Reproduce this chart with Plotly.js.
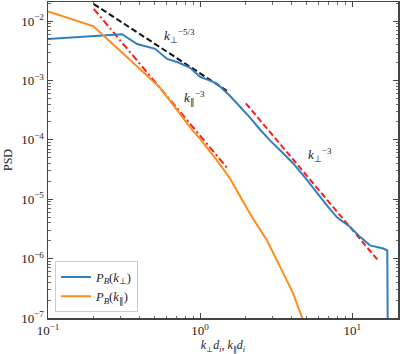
<!DOCTYPE html>
<html>
<head>
<meta charset="utf-8">
<script src="https://cdn.plot.ly/plotly-3.0.1.min.js"></script>
<style>html,body{margin:0;padding:0;background:#fff;}#chart{width:400px;height:354px;}</style>
</head>
<body>
<div id="chart"></div>
<script>
// P_B(k_perp)
const kPerp = [0.1, 0.2, 0.307, 0.385, 0.45, 0.506, 0.607, 0.72, 0.859, 1.0, 1.15, 1.29, 1.57, 1.85, 2.13, 2.5, 2.89, 3.5, 4.09, 4.9, 5.89, 6.9, 7.97, 9.7, 11.3, 13.1, 16.0, 17.0, 17.2, 17.25];
const psdPerp = [5.0e-3, 5.6e-3, 6.0e-3, 4.1e-3, 3.7e-3, 3.4e-3, 2.3e-3, 2.0e-3, 1.63e-3, 1.15e-3, 1.0e-3, 8.8e-4, 5.5e-4, 3.5e-4, 2.36e-4, 1.45e-4, 9.7e-5, 6.0e-5, 4.0e-5, 2.3e-5, 1.25e-5, 7.6e-6, 4.9e-6, 3.4e-6, 2.3e-6, 1.67e-6, 1.48e-6, 1.37e-6, 1e-8, 1e-9];
// P_B(k_par)
const kPar = [0.1, 0.198, 0.298, 0.546, 0.90, 1.0, 1.29, 1.57, 2.13, 2.76, 3.52, 4.09, 4.69, 5.0];
const psdPar = [1.45e-2, 8.2e-3, 3.15e-3, 7.5e-4, 1.4e-4, 1.04e-4, 4.5e-5, 2.24e-5, 5.7e-6, 2.0e-6, 5.7e-7, 2.6e-7, 1e-7, 6e-8];
// reference slopes (two end points each)
const k53x = [0.2, 1.5];
const k53y = [0.0193, 6.7e-4];
const kPar3x = [0.2, 1.5];
const kPar3y = [0.016, 3.4e-5];
const kPerp3x = [2.0, 14.8];
const kPerp3y = [4.1e-4, 9.3e-7];
// tick labels
const xTickVals = [0.1, 1, 10];
const xTickText = ['10<sup>−1</sup>', '10<sup>0</sup>', '10<sup>1</sup>'];
const yTickVals = [1e-7, 1e-6, 1e-5, 1e-4, 1e-3, 1e-2];
const yTickText = ['10<sup>−7</sup>', '10<sup>−6</sup>', '10<sup>−5</sup>', '10<sup>−4</sup>', '10<sup>−3</sup>', '10<sup>−2</sup>'];

const serif = "Liberation Serif, Times New Roman, serif";

const traces = [
  {x: k53x, y: k53y, mode: 'lines', line: {color: '#111', width: 2, dash: '6px,3px'}, showlegend: false, hoverinfo: 'skip'},
  {x: kPar3x, y: kPar3y, mode: 'lines', line: {color: '#ff1a1a', width: 2, dash: '7px,3px,2px,3px'}, showlegend: false, hoverinfo: 'skip'},
  {x: kPerp3x, y: kPerp3y, mode: 'lines', line: {color: '#ff1a1a', width: 2, dash: '6px,3px'}, showlegend: false, hoverinfo: 'skip'},
  {x: kPerp, y: psdPerp, mode: 'lines', name: '<i>P<sub>B</sub></i>(<i>k</i><sub>⊥</sub>)', line: {color: '#2f7fc1', width: 2}},
  {x: kPar, y: psdPar, mode: 'lines', name: '<i>P<sub>B</sub></i>(<i>k</i><sub>∥</sub>)', line: {color: '#ff8c1a', width: 2}}
];

const axisCommon = {
  type: 'log', showgrid: false, zeroline: false, showline: true, linecolor: '#444', linewidth: 1.5,
  mirror: 'allticks', ticks: 'inside', ticklen: 5, tickwidth: 1, tickcolor: '#444',
  tickmode: 'array',
  minor: {ticks: 'inside', ticklen: 2.5, tickwidth: 0.8, tickcolor: '#444', showgrid: false, dtick: 'D1'},
  tickfont: {family: serif, size: 13, color: '#222'}
};

const layout = {
  width: 400, height: 354,
  margin: {l: 48, r: 2, t: 2, b: 36},
  paper_bgcolor: '#fff', plot_bgcolor: '#fff',
  font: {family: serif, color: '#222'},
  xaxis: Object.assign({}, axisCommon, {
    range: [-1, Math.log10(20)],
    tickvals: xTickVals, ticktext: xTickText,
    title: {text: '<i>k</i><sub>⊥</sub><i>d<sub>i</sub></i>, <i>k</i><sub>∥</sub><i>d<sub>i</sub></i>', font: {family: serif, size: 12, color: '#222'}, standoff: 2}
  }),
  yaxis: Object.assign({}, axisCommon, {
    range: [-7, -1.68],
    tickvals: yTickVals, ticktext: yTickText,
    title: {text: 'PSD', font: {family: serif, size: 12, color: '#222'}, standoff: 6}
  }),
  legend: {
    x: 0.02, y: 0.018, xanchor: 'left', yanchor: 'bottom',
    bgcolor: 'rgba(255,255,255,0.9)', bordercolor: '#ccc', borderwidth: 1,
    font: {family: serif, size: 12.5, color: '#222'}, itemwidth: 30, tracegroupgap: 0
  },
  annotations: [
    {xref: 'x', yref: 'y', x: Math.log10(0.56), y: Math.log10(5.6e-3), text: '<i>k</i><sub>⊥</sub><sup>−5/3</sup>', showarrow: false, font: {family: serif, size: 13, color: '#222'}, xanchor: 'left'},
    {xref: 'x', yref: 'y', x: Math.log10(0.76), y: Math.log10(5.0e-4), text: '<i>k</i><sub>∥</sub><sup>−3</sup>', showarrow: false, font: {family: serif, size: 13, color: '#222'}, xanchor: 'left'},
    {xref: 'x', yref: 'y', x: Math.log10(4.95), y: Math.log10(5.5e-5), text: '<i>k</i><sub>⊥</sub><sup>−3</sup>', showarrow: false, font: {family: serif, size: 13, color: '#222'}, xanchor: 'left'}
  ]
};

Plotly.newPlot('chart', traces, layout, {displayModeBar: false, staticPlot: true});
</script>
</body>
</html>
